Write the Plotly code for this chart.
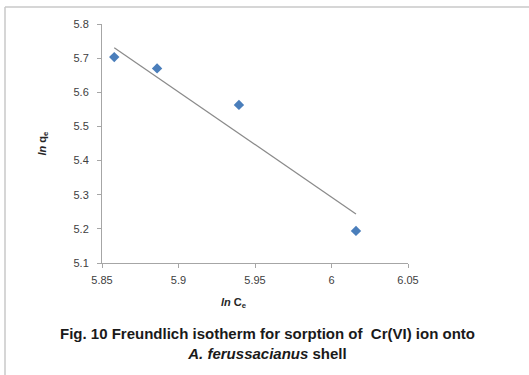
import plotly.graph_objects as go
import numpy as np

# Freundlich isotherm data: ln Ce vs ln qe
ln_ce = [5.858, 5.886, 5.9395, 6.016]
ln_qe = [5.703, 5.670, 5.563, 5.194]

# Linear trend line (ln qe = slope * ln Ce + intercept)
trend_slope = -3.083
trend_intercept = 23.7908

x_ticks = [5.85, 5.9, 5.95, 6.0, 6.05]
y_ticks = [5.1, 5.2, 5.3, 5.4, 5.5, 5.6, 5.7, 5.8]

trend_x = np.array([min(ln_ce), max(ln_ce)])
trend_y = trend_slope * trend_x + trend_intercept

fig = go.Figure()
fig.add_trace(go.Scatter(
    x=trend_x, y=trend_y, mode="lines",
    line=dict(color="#8a8a8a", width=1.2),
    hoverinfo="skip", showlegend=False,
))
fig.add_trace(go.Scatter(
    x=ln_ce, y=ln_qe, mode="markers",
    marker=dict(symbol="diamond", size=8, color="#4a7ebb"),
    showlegend=False,
))

axis_common = dict(
    showgrid=False, zeroline=False, showline=True,
    linecolor="#a6a6a6", linewidth=1,
    ticks="outside", ticklen=4, tickcolor="#a6a6a6",
    tickfont=dict(family="Liberation Sans, Arial, sans-serif", size=11, color="#404040"),
)

fig.update_xaxes(range=[5.85, 6.05], tickvals=x_ticks,
                 ticktext=[f"{v:g}" for v in x_ticks],
                 ticklabelstandoff=3, **axis_common)
fig.update_yaxes(range=[5.1, 5.8], tickvals=y_ticks,
                 ticktext=[f"{v:g}" for v in y_ticks],
                 ticklabelstandoff=6, **axis_common)

px_w, px_h = 306, 239  # plot area size in pixels


def px(xp):
    return (xp - 102) / px_w


def py(yp):
    return (263 - yp) / px_h


title_font = dict(family="Liberation Sans, Arial, sans-serif", size=11, color="#262626")
cap_font = dict(family="Liberation Sans, Arial, sans-serif", size=15, color="#1a1a1a")

caption = ("<b>Fig. 10 Freundlich isotherm for sorption of  Cr(VI) ion onto</b><br>"
           "<b><i>A. ferussacianus</i> shell</b>")

annotations = [
    dict(text="<b><i>ln</i> q<sub>e</sub></b>", x=px(42), y=py(143.5),
         xref="paper", yref="paper", showarrow=False, textangle=-90,
         font=title_font, xanchor="center", yanchor="middle"),
    dict(text="<b><i>ln</i> C<sub>e</sub></b>", x=px(234), y=py(303),
         xref="paper", yref="paper", showarrow=False,
         font=title_font, xanchor="center", yanchor="middle"),
    dict(text=caption, x=px(267.5), y=py(343.5), xref="paper", yref="paper",
         showarrow=False, font=cap_font, align="center",
         xanchor="center", yanchor="middle"),
]

# thin frame along the top and left edges of the figure
shapes = [
    dict(type="line", xref="paper", yref="paper",
         x0=px(5), x1=px(529), y0=py(7), y1=py(7),
         line=dict(color="#c8c8c8", width=1.5)),
    dict(type="line", xref="paper", yref="paper",
         x0=px(5), x1=px(5), y0=py(7), y1=py(375),
         line=dict(color="#c8c8c8", width=1.5)),
]

fig.update_layout(
    width=529, height=375,
    margin=dict(l=102, r=121, t=24, b=112),
    paper_bgcolor="white", plot_bgcolor="white",
    annotations=annotations, shapes=shapes,
)

fig.write_html("out.html")
